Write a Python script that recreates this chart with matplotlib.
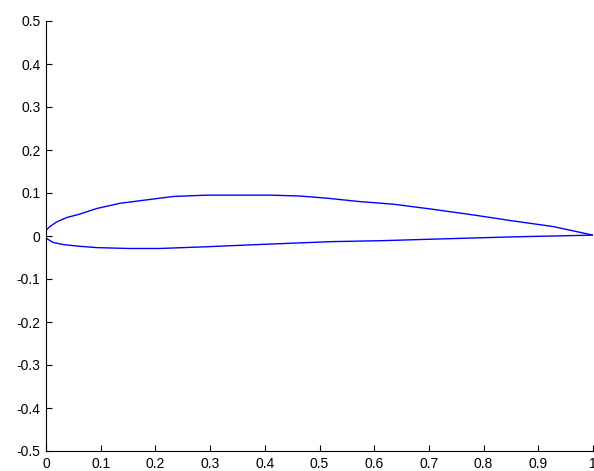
import matplotlib
matplotlib.use('Agg')
import matplotlib.pyplot as plt

# upper surface, leading edge -> trailing edge
x_upper = [0.0, 0.0, 0.007, 0.020, 0.038, 0.062, 0.093, 0.135, 0.184, 0.233, 0.294,
           0.36, 0.41, 0.464, 0.513, 0.574, 0.635, 0.708, 0.781, 0.854, 0.927, 1.0]
y_upper = [0.004, 0.013, 0.022, 0.033, 0.043, 0.051, 0.064, 0.076, 0.084, 0.092, 0.095,
           0.095, 0.095, 0.093, 0.088, 0.080, 0.074, 0.062, 0.049, 0.035, 0.022, 0.002]

# lower surface, leading edge -> trailing edge
x_lower = [0.0, 0.0, 0.013, 0.032, 0.062, 0.093, 0.15, 0.208, 0.294, 0.367, 0.464,
           0.525, 0.61, 0.69, 0.77, 0.854, 0.927, 1.0]
y_lower = [0.004, -0.005, -0.015, -0.020, -0.024, -0.027, -0.029, -0.029, -0.025, -0.021,
           -0.016, -0.013, -0.011, -0.008, -0.005, -0.002, 0.0, 0.002]

xticks = [0, 0.1, 0.2, 0.3, 0.4, 0.5, 0.6, 0.7, 0.8, 0.9, 1]
xlabels = ['0', '0.1', '0.2', '0.3', '0.4', '0.5', '0.6', '0.7', '0.8', '0.9', '1']
yticks = [-0.5, -0.4, -0.3, -0.2, -0.1, 0, 0.1, 0.2, 0.3, 0.4, 0.5]
ylabels = ['-0.5', '-0.4', '-0.3', '-0.2', '-0.1', '0', '0.1', '0.2', '0.3', '0.4', '0.5']

plt.rcParams['font.family'] = ['Liberation Sans', 'DejaVu Sans']
fig = plt.figure(figsize=(5.94, 4.71), dpi=100)
ax = fig.add_axes([46 / 594, 20 / 471, 547 / 594, 430 / 471])

ax.plot(x_upper, y_upper, color='#0000ff', lw=1)
ax.plot(x_lower, y_lower, color='#0000ff', lw=1)

ax.set_xlim(0, 1)
ax.set_ylim(-0.5, 0.5)
ax.set_xticks(xticks)
ax.set_xticklabels(xlabels)
ax.set_yticks(yticks)
ax.set_yticklabels(ylabels)
ax.tick_params(direction='in', length=4, width=0.8, labelsize=10, pad=4, colors='black')
ax.tick_params(axis='x', pad=4)
for s in ['top', 'right']:
    ax.spines[s].set_visible(False)
for s in ['left', 'bottom']:
    ax.spines[s].set_linewidth(0.8)

fig.savefig('out.png', dpi=100)
